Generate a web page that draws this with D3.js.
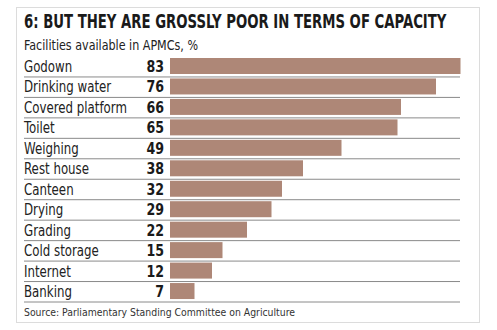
<!DOCTYPE html>
<html>
<head>
<meta charset="utf-8">
<script src="https://cdn.jsdelivr.net/npm/d3@7"></script>
<style>
  html, body { margin: 0; padding: 0; background: #fff; }
  svg { display: block; }
  .narrow { font-family: "Liberation Sans Narrow", "DejaVu Sans Condensed", "Roboto Condensed", sans-serif; }
</style>
</head>
<body>
<svg id="chart" width="497" height="330"></svg>
<script>
// facilities and share of APMCs that have them
const facilities = ["Godown", "Drinking water", "Covered platform", "Toilet", "Weighing",
                    "Rest house", "Canteen", "Drying", "Grading", "Cold storage", "Internet", "Banking"];
const shares = [83, 76, 66, 65, 49, 38, 32, 29, 22, 15, 12, 7];

const titleText = "6: BUT THEY ARE GROSSLY POOR IN TERMS OF CAPACITY";
const subtitleText = "Facilities available in APMCs, %";
const sourceText = "Source: Parliamentary Standing Committee on Agriculture";

const svg = d3.select("#chart");

// squeeze a text horizontally so it looks like a condensed face
function squeeze(sel, k) {
    sel.each(function() {
        const w = this.getComputedTextLength();
        d3.select(this)
          .attr("textLength", w * k)
          .attr("lengthAdjust", "spacingAndGlyphs");
    });
}

// outer frame
svg.append("rect")
   .attr("x", 16.5).attr("y", 7.5)
   .attr("width", 463).attr("height", 315)
   .attr("fill", "#fff")
   .attr("stroke", "#dcdcdc")
   .attr("stroke-width", 1);

const left = 24, lineEnd = 460;

// title, scaled down to its width rather than stretched by textLength
const title = svg.append("text")
   .attr("class", "narrow")
   .attr("font-size", 19.5).attr("font-weight", "bold")
   .attr("fill", "#1a1a1a")
   .text(titleText);
const tw = title.node().getComputedTextLength();
title.attr("transform", "translate(" + left + ",28) scale(" + (423 / tw) + ",1)");

svg.append("text")
   .attr("class", "narrow")
   .attr("x", left).attr("y", 50)
   .attr("font-size", 13.5)
   .attr("fill", "#222")
   .attr("textLength", 174).attr("lengthAdjust", "spacingAndGlyphs")
   .text(subtitleText);

const yScale = d3.scaleBand()
                 .domain(facilities)
                 .range([56.5, 302]);

const xScale = d3.scaleLinear()
                 .domain([0, 100])
                 .range([170, 520]);

const rows = svg.selectAll("g.row")
                .data(facilities.map((name, i) => ({name, value: shares[i]})))
                .enter()
                .append("g")
                .attr("class", "row")
                .attr("transform", d => "translate(0," + yScale(d.name) + ")");

const bw = yScale.bandwidth();

rows.append("rect")
    .attr("x", xScale(0))
    .attr("y", 1.5)
    .attr("width", d => xScale(d.value) - xScale(0))
    .attr("height", 16)
    .attr("fill", "#ae8777");

rows.append("line")
    .attr("x1", left).attr("x2", lineEnd)
    .attr("y1", bw).attr("y2", bw)
    .attr("stroke", "#8a8a8a")
    .attr("stroke-width", 1);

rows.append("text")
    .attr("class", "narrow")
    .attr("x", left).attr("y", 15.5)
    .attr("font-size", 15)
    .attr("fill", "#222")
    .text(d => d.name)
    .call(squeeze, 0.875);

rows.append("text")
    .attr("class", "narrow")
    .attr("x", 164).attr("y", 15.5)
    .attr("text-anchor", "end")
    .attr("font-size", 16.5).attr("font-weight", "bold")
    .attr("fill", "#1a1a1a")
    .text(d => d.value)
    .call(squeeze, 0.85);

svg.append("text")
   .attr("class", "narrow")
   .attr("x", left).attr("y", 316)
   .attr("font-size", 10.5)
   .attr("fill", "#333")
   .attr("textLength", 271).attr("lengthAdjust", "spacingAndGlyphs")
   .text(sourceText);
</script>
</body>
</html>
